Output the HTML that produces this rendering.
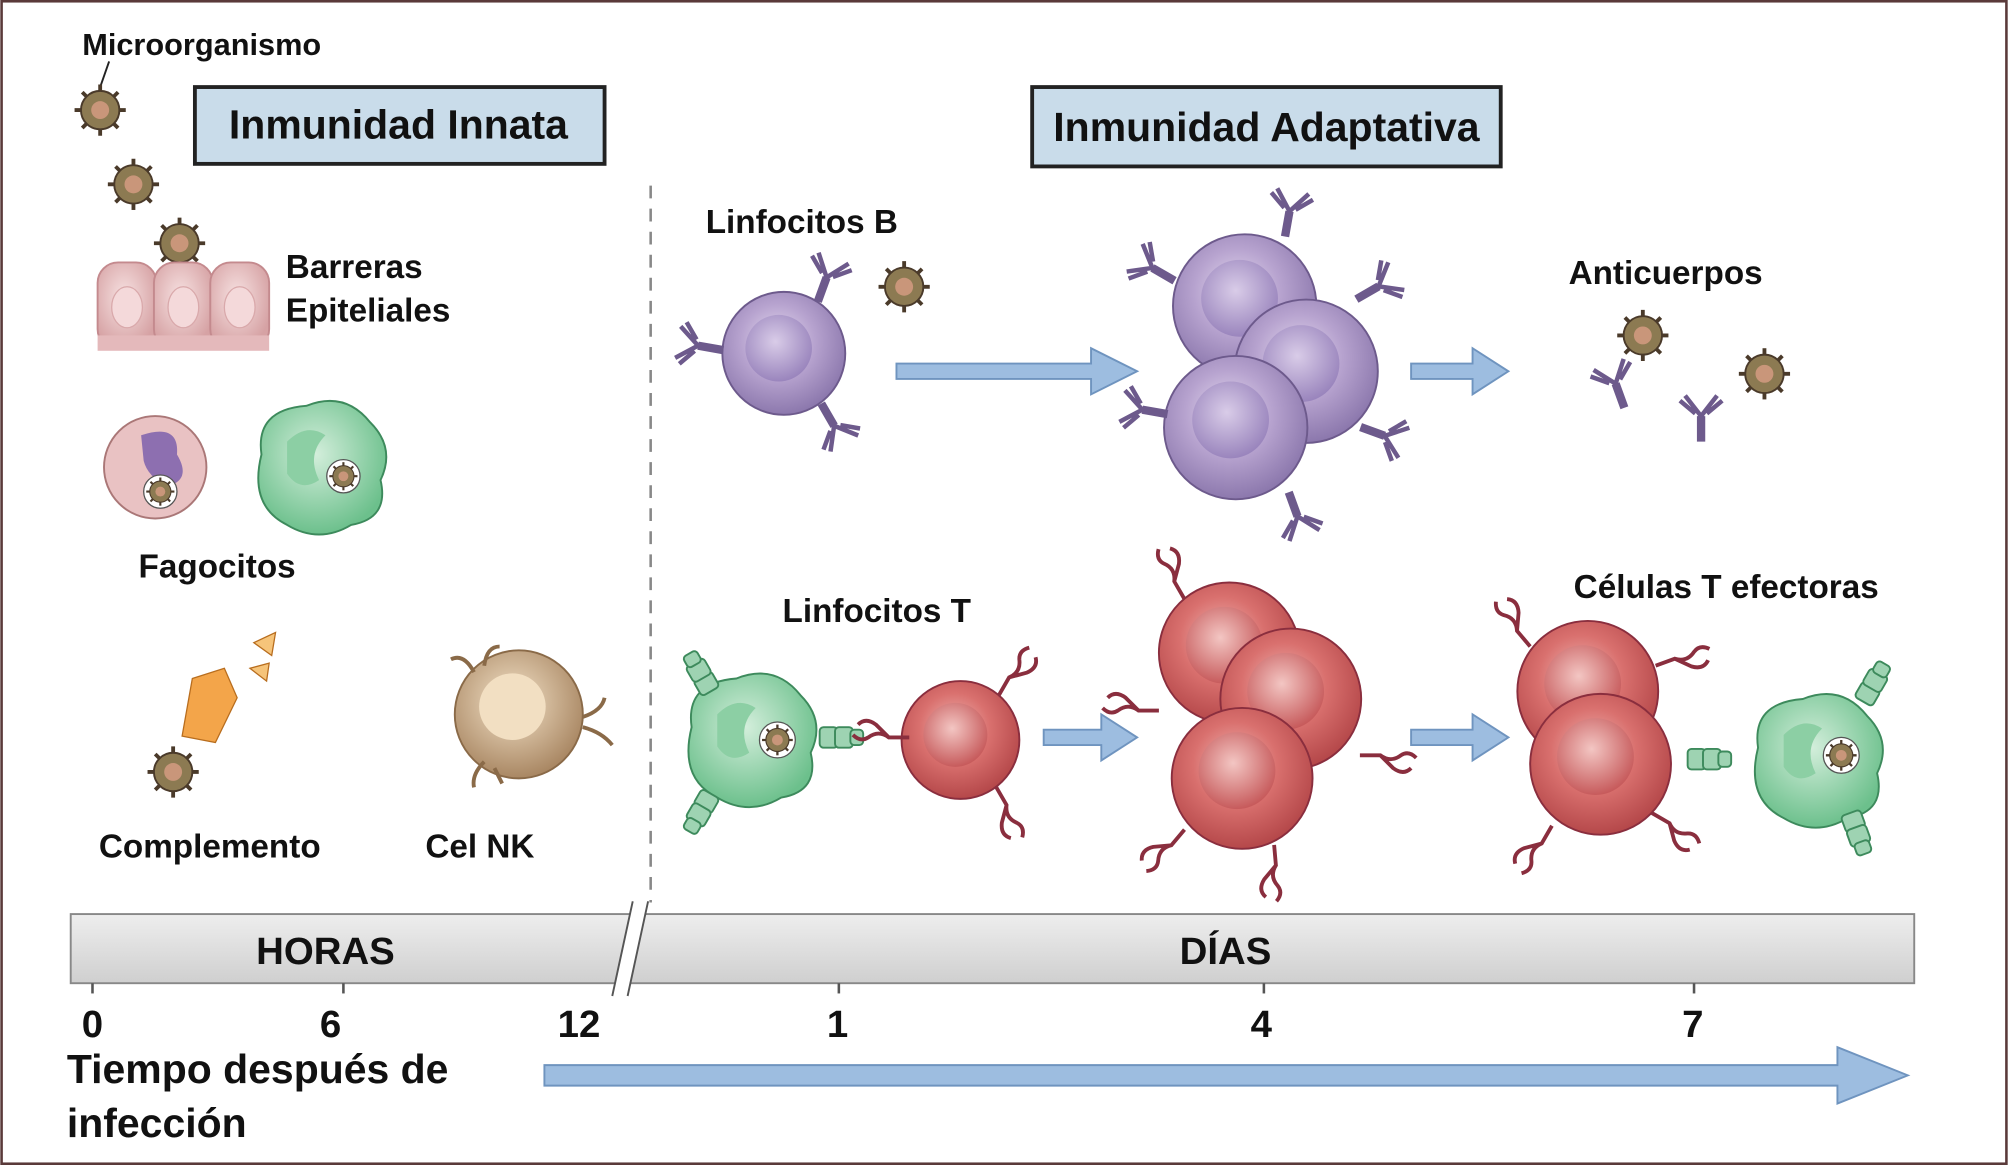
<!DOCTYPE html>
<html><head><meta charset="utf-8"><style>
html,body{margin:0;padding:0;background:#fff;}
svg{display:block}
text{font-family:"Liberation Sans Narrow","Liberation Sans",sans-serif;fill:#111;font-weight:bold}
</style></head><body>
<svg width="2008" height="1165" viewBox="0 0 1568 910" xmlns="http://www.w3.org/2000/svg">
<defs>
<radialGradient id="pur" cx="45%" cy="40%" r="60%"><stop offset="0" stop-color="#e6dcf0"/><stop offset="0.5" stop-color="#b7a3cf"/><stop offset="1" stop-color="#8c78ad"/></radialGradient>
<radialGradient id="purn" cx="45%" cy="40%" r="60%"><stop offset="0" stop-color="#d9cce8"/><stop offset="1" stop-color="#9a85bd"/></radialGradient>
<radialGradient id="red" cx="45%" cy="40%" r="60%"><stop offset="0" stop-color="#f0b7b4"/><stop offset="0.5" stop-color="#d9706e"/><stop offset="1" stop-color="#b5484a"/></radialGradient>
<radialGradient id="redn" cx="45%" cy="40%" r="60%"><stop offset="0" stop-color="#f3c6c3"/><stop offset="1" stop-color="#c75b5c"/></radialGradient>
<radialGradient id="grn" cx="45%" cy="40%" r="60%"><stop offset="0" stop-color="#d3eedb"/><stop offset="1" stop-color="#6cc08c"/></radialGradient>
<radialGradient id="tan" cx="45%" cy="40%" r="60%"><stop offset="0" stop-color="#f3e2c8"/><stop offset="1" stop-color="#a98763"/></radialGradient>
<radialGradient id="pink" cx="45%" cy="40%" r="60%"><stop offset="0" stop-color="#f7e2e2"/><stop offset="1" stop-color="#d6a2a4"/></radialGradient>
<linearGradient id="bar" x1="0" y1="0" x2="0" y2="1"><stop offset="0" stop-color="#eeeeee"/><stop offset="1" stop-color="#cfcfcf"/></linearGradient>
<g id="mic"><g stroke="#4a3a2a" stroke-width="3"><line x1="0" y1="-20" x2="0" y2="20"/><line x1="-20" y1="0" x2="20" y2="0"/><line x1="-14" y1="-14" x2="14" y2="14"/><line x1="-14" y1="14" x2="14" y2="-14"/></g><circle r="15" fill="#8c7a52" stroke="#4a3a2a" stroke-width="1.5"/><circle r="7" fill="#c9967a"/></g>
<g id="ab" fill="none" stroke="#6d5a8c" stroke-width="3.5"><path d="M0 0 V-20 M-3 0 V-20 M-1.5 -20 L-14 -36 M-1.5 -20 L11 -36 M-6 -22 L-18 -32 M3 -22 L15 -32"/></g>
<g id="tcr" fill="none" stroke="#8a2e3e" stroke-width="3"><path d="M0 0 L0 -16 Q6 -24 0 -32 Q-4 -38 2 -44 M0 -16 L10 -26 Q16 -34 10 -40"/></g>
<g id="bcell"><circle r="48" fill="url(#pur)" stroke="#6d5a8c" stroke-width="1.5"/><circle cx="-4" cy="-4" r="26" fill="url(#purn)"/></g>
<g id="tcell"><circle r="46" fill="url(#red)" stroke="#8a2e3e" stroke-width="1.5"/><circle cx="-4" cy="-4" r="25" fill="url(#redn)"/></g>
<g id="bigb"><circle r="56" fill="url(#pur)" stroke="#6d5a8c" stroke-width="1.5"/><circle cx="-4" cy="-6" r="30" fill="url(#purn)"/></g>
<g id="bigt"><circle r="55" fill="url(#red)" stroke="#8a2e3e" stroke-width="1.5"/><circle cx="-4" cy="-6" r="30" fill="url(#redn)"/></g>
<g id="mac"><path d="M-45 -10 Q-50 -45 -10 -48 Q20 -60 40 -35 Q60 -15 48 10 Q55 40 25 45 Q0 60 -25 45 Q-55 30 -45 -10Z" fill="url(#grn)" stroke="#3d8a5c" stroke-width="1.5"/><path d="M-25 -20 Q-10 -35 5 -25 Q-10 -10 0 10 Q-15 20 -25 5Z" fill="#8ccfa4"/></g>
<g id="mhc" fill="#9ed3b2" stroke="#3d8a5c" stroke-width="1.5"><rect x="0" y="-8" width="14" height="16" rx="3"/><rect x="12" y="-8" width="14" height="16" rx="3"/><rect x="24" y="-6" width="10" height="12" rx="3"/></g>
</defs>
<rect x="1" y="1" width="1566" height="908" fill="#fff" stroke="#5a3a3a" stroke-width="2"/>

<rect x="152" y="68" width="320" height="60" fill="#c9dcea" stroke="#222" stroke-width="3"/>
<text x="311" y="108" font-size="32" text-anchor="middle">Inmunidad Innata</text>
<rect x="806" y="68" width="366" height="62" fill="#c9dcea" stroke="#222" stroke-width="3"/>
<text x="989" y="110" font-size="32" text-anchor="middle">Inmunidad Adaptativa</text>

<line x1="508" y1="145" x2="508" y2="705" stroke="#888" stroke-width="2" stroke-dasharray="10,8"/>

<text x="64" y="43" font-size="24">Microorganismo</text>
<line x1="85" y1="48" x2="78" y2="68" stroke="#222" stroke-width="1.5"/>
<use href="#mic" x="78" y="86"/><use href="#mic" x="104" y="144"/><use href="#mic" x="140" y="190"/>
<g stroke="#c48a8e" stroke-width="1.5" fill="url(#pink)">
<rect x="76" y="205" width="46" height="68" rx="16"/><rect x="120" y="205" width="46" height="68" rx="16"/><rect x="164" y="205" width="46" height="68" rx="16"/>
</g>
<g fill="#f4d9da" stroke="#d9a9ab"><ellipse cx="99" cy="240" rx="12" ry="16"/><ellipse cx="143" cy="240" rx="12" ry="16"/><ellipse cx="187" cy="240" rx="12" ry="16"/></g>
<rect x="76" y="262" width="134" height="12" fill="#e4b9bb"/>
<text x="223" y="217" font-size="26">Barreras</text>
<text x="223" y="251" font-size="26">Epiteliales</text>
<circle cx="121" cy="365" r="40" fill="#e9c2c3" stroke="#a77" stroke-width="1.5"/>
<path d="M110 340 Q140 330 138 355 Q150 375 130 380 Q115 372 112 360Z" fill="#8d6fb0"/>
<circle cx="125" cy="384" r="13" fill="#fff" stroke="#555"/>
<use href="#mic" x="125" y="384" transform="translate(125 384) scale(0.55) translate(-125 -384)"/>
<use href="#mac" x="249" y="365"/>
<circle cx="268" cy="372" r="13" fill="#fff" stroke="#555"/>
<use href="#mic" x="268" y="372" transform="translate(268 372) scale(0.55) translate(-268 -372)"/>
<text x="108" y="451" font-size="26">Fagocitos</text>
<path d="M150 530 L175 522 L185 545 L168 580 L142 575Z" fill="#f3a54a" stroke="#b86d1e"/>
<path d="M198 502 L215 494 L212 512Z" fill="#f6c47a" stroke="#b86d1e"/>
<path d="M195 522 L210 518 L208 532Z" fill="#f6c47a" stroke="#b86d1e"/>
<use href="#mic" x="135" y="603"/>
<text x="77" y="670" font-size="26">Complemento</text>
<circle cx="405" cy="558" r="50" fill="url(#tan)" stroke="#8a6a48" stroke-width="1.5"/>
<circle cx="400" cy="552" r="26" fill="#f2dfc2"/>
<g fill="none" stroke="#8a6a48" stroke-width="3"><path d="M370 525 Q362 510 352 515 M378 520 Q380 505 390 505"/><path d="M455 560 Q470 555 472 545 M455 568 Q470 572 478 582"/><path d="M378 595 Q368 605 370 615 M386 600 L392 612"/></g>
<text x="332" y="670" font-size="26">Cel NK</text>

<text x="551" y="182" font-size="26">Linfocitos B</text>
<use href="#bcell" x="612" y="276"/>
<use href="#ab" x="640" y="236" transform="rotate(20 640 236)"/>
<use href="#ab" x="565" y="272" transform="rotate(-80 565 272)"/>
<use href="#ab" x="640" y="316" transform="rotate(150 640 316)"/>
<use href="#mic" x="706" y="224"/>
<use href="#bigb" x="972" y="239"/>
<use href="#bigb" x="1020" y="290"/>
<use href="#bigb" x="965" y="334"/>
<use href="#ab" x="918" y="218" transform="rotate(-60 918 218)"/>
<use href="#ab" x="1005" y="185" transform="rotate(10 1005 185)"/>
<use href="#ab" x="1060" y="235" transform="rotate(60 1060 235)"/>
<use href="#ab" x="912" y="322" transform="rotate(-80 912 322)"/>
<use href="#ab" x="1062" y="335" transform="rotate(110 1062 335)"/>
<use href="#ab" x="1005" y="385" transform="rotate(160 1005 385)"/>
<text x="1225" y="222" font-size="26">Anticuerpos</text>
<use href="#mic" x="1283" y="262"/><use href="#mic" x="1378" y="292"/>
<use href="#ab" x="1270" y="318" transform="rotate(-20 1270 318)"/>
<use href="#ab" x="1330" y="345"/>

<text x="611" y="486" font-size="26">Linfocitos T</text>
<use href="#mac" x="585" y="578"/>
<circle cx="607" cy="578" r="14" fill="#fff" stroke="#555"/>
<use href="#mic" x="607" y="578" transform="translate(607 578) scale(0.6) translate(-607 -578)"/>
<use href="#mhc" x="640" y="576"/>
<use href="#mhc" x="555" y="540" transform="rotate(-120 555 540)"/>
<use href="#mhc" x="555" y="620" transform="rotate(120 555 620)"/>
<use href="#tcell" x="750" y="578"/>
<use href="#tcr" x="780" y="543" transform="rotate(30 780 543)"/>
<use href="#tcr" x="778" y="615" transform="rotate(150 778 615)"/>
<use href="#tcr" x="710" y="576" transform="rotate(-90 710 576)"/>
<use href="#bigt" x="960" y="510"/>
<use href="#bigt" x="1008" y="546"/>
<use href="#bigt" x="970" y="608"/>
<use href="#tcr" x="925" y="468" transform="rotate(-30 925 468)"/>
<use href="#tcr" x="905" y="555" transform="rotate(-90 905 555)"/>
<use href="#tcr" x="1062" y="590" transform="rotate(90 1062 590)"/>
<use href="#tcr" x="925" y="648" transform="rotate(-140 925 648)"/>
<use href="#tcr" x="995" y="660" transform="rotate(175 995 660)"/>
<text x="1229" y="467" font-size="26">Células T efectoras</text>
<use href="#bigt" x="1240" y="540"/>
<use href="#bigt" x="1250" y="597"/>
<use href="#tcr" x="1195" y="505" transform="rotate(-40 1195 505)"/>
<use href="#tcr" x="1293" y="520" transform="rotate(70 1293 520)"/>
<use href="#tcr" x="1212" y="645" transform="rotate(-150 1212 645)"/>
<use href="#tcr" x="1290" y="635" transform="rotate(120 1290 635)"/>
<use href="#mhc" x="1318" y="593"/>
<use href="#mac" x="1418" y="594"/>
<circle cx="1438" cy="590" r="14" fill="#fff" stroke="#555"/>
<use href="#mic" x="1438" y="590" transform="translate(1438 590) scale(0.6) translate(-1438 -590)"/>
<use href="#mhc" x="1455" y="548" transform="rotate(-60 1455 548)"/>
<use href="#mhc" x="1445" y="635" transform="rotate(70 1445 635)"/>

<g fill="#9dbde0" stroke="#6f94bf" stroke-width="1.5">
<path d="M700 284 H852 V272 L888 290 L852 308 V296 H700Z"/>
<path d="M1102 284 H1150 V272 L1178 290 L1150 308 V296 H1102Z"/>
<path d="M815 570 H860 V558 L888 576 L860 594 V582 H815Z"/>
<path d="M1102 570 H1150 V558 L1178 576 L1150 594 V582 H1102Z"/>
<path d="M425 832 H1435 V818 L1490 840 L1435 862 V848 H425Z"/>
</g>

<rect x="55" y="714" width="1440" height="54" fill="url(#bar)" stroke="#888" stroke-width="1.5"/>
<path d="M478 778 L494 704 L506 704 L490 778Z" fill="#fff"/>
<line x1="478" y1="778" x2="494" y2="704" stroke="#555" stroke-width="1.5"/>
<line x1="490" y1="778" x2="506" y2="704" stroke="#555" stroke-width="1.5"/>
<text x="254" y="753" font-size="30" text-anchor="middle">HORAS</text>
<text x="957" y="753" font-size="30" text-anchor="middle">DÍAS</text>
<g stroke="#555" stroke-width="2"><line x1="72" y1="768" x2="72" y2="776"/><line x1="268" y1="768" x2="268" y2="776"/><line x1="655" y1="768" x2="655" y2="776"/><line x1="987" y1="768" x2="987" y2="776"/><line x1="1323" y1="768" x2="1323" y2="776"/></g>
<g font-size="30" text-anchor="middle"><text x="72" y="810">0</text><text x="258" y="810">6</text><text x="452" y="810">12</text><text x="654" y="810">1</text><text x="985" y="810">4</text><text x="1322" y="810">7</text></g>
<text x="52" y="846" font-size="32">Tiempo después de</text>
<text x="52" y="888" font-size="32">infección</text>
</svg>
</body></html>
